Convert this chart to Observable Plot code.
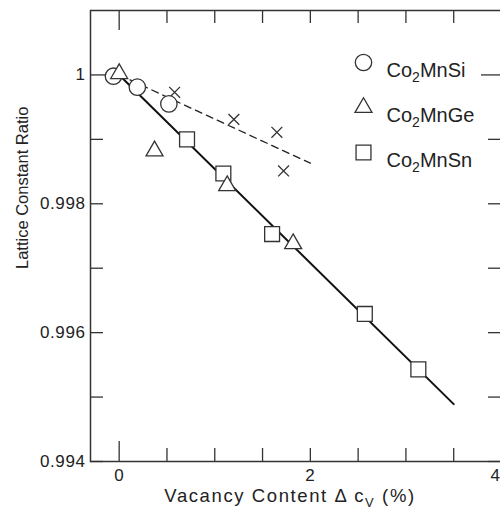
<!DOCTYPE html>
<html>
<head>
<meta charset="utf-8">
<script src="https://cdn.jsdelivr.net/npm/d3@7"></script>
<script src="https://cdn.jsdelivr.net/npm/@observablehq/plot@0.6"></script>
<style>
  html, body { margin: 0; padding: 0; background: #fff; overflow: hidden; }
  #chart { width: 500px; height: 513px; overflow: hidden; }
  #chart svg { max-width: none !important; }
</style>
</head>
<body>
<div id="chart"></div>
<script>
// ---- data ----
const seriesNames = ["Co2MnSi", "Co2MnGe", "Co2MnSn"];
const seriesSymbols = ["circle", "triangle", "square"];
const seriesR = [8.2, 6.3, 8.4];

const siX = [-0.06, 0.19, 0.52];
const siY = [0.99998, 0.99981, 0.99955];
const geX = [0.0, 0.37, 1.13, 1.82];
const geY = [1.00002, 0.99882, 0.99828, 0.99738];
const snX = [0.71, 1.09, 1.60, 2.57, 3.13];
const snY = [0.99900, 0.99847, 0.99753, 0.99629, 0.99543];
const crossX = [0.58, 1.20, 1.65, 1.72];
const crossY = [0.99973, 0.99931, 0.99911, 0.99851];

const solidFitX = [0, 3.5];
const solidFitY = [1.0, 0.99489];
const dashFitX = [0, 2.0];
const dashFitY = [1.0, 0.99863];

const xTicksAll = [0, 0.5, 1, 1.5, 2, 2.5, 3, 3.5, 4];
const xTicksLong = [0];
const xTickLabels = [0, 2];
const xTickLabelsEdge = [4];
const yTicksAll = [0.994, 0.995, 0.996, 0.997, 0.998, 0.999, 1.0];
const yTicksLong = [1.0];
const yTickLabels = [0.994, 0.996, 0.998, 1.0];

const xTitle = "Vacancy Content Δ cV (%)";
const yTitle = "Lattice Constant Ratio";

// ---- build tables ----
const zipPts = (xs, ys) => xs.map((x, i) => ({x, y: ys[i]}));
const siPts = zipPts(siX, siY);
const gePts = zipPts(geX, geY);
const snPts = zipPts(snX, snY);
const crossPts = zipPts(crossX, crossY);
const solidFit = zipPts(solidFitX, solidFitY);
const dashFit = zipPts(dashFitX, dashFitY);

const W = 512, H = 513, mL = 90, mT = 10, mB = 52, mR = 11;
const innerH = H - mT - mB;
const innerW = W - mL - mR;
const ink = "#333";
const font = "'Liberation Sans', Arial, sans-serif";

const shortX = xTicksAll.filter(d => !xTicksLong.includes(d));
const shortY = yTicksAll.filter(d => !yTicksLong.includes(d));

const legendMarks = [];
seriesNames.forEach((name, i) => {
  legendMarks.push(Plot.dot([name], {
    frameAnchor: "top-left", dx: 273, dy: 52 + i * 45,
    symbol: () => seriesSymbols[i], r: seriesR[i],
    stroke: ink, strokeWidth: 1.3, fill: "white"
  }));
  legendMarks.push(Plot.text([name], {
    frameAnchor: "top-left", dx: 296, dy: 52 + i * 45,
    text: d => d, textAnchor: "start", fontSize: 20, fill: "#222"
  }));
});

const chart = Plot.plot({
  width: W, height: H,
  marginLeft: mL, marginTop: mT, marginBottom: mB, marginRight: mR,
  style: {fontFamily: font, fontSize: "17px", color: "#222", background: "white", maxWidth: "none"},
  x: {domain: [-0.3, 4.0]},
  y: {domain: [0.994, 1.001]},
  symbol: {type: "identity"},
  marks: [
    // inward ticks
    Plot.ruleX(shortX, {x: d => d, insetTop: innerH - 13, stroke: ink, strokeWidth: 1.3}),
    Plot.ruleX(xTicksLong, {x: d => d, insetTop: innerH - 20, stroke: ink, strokeWidth: 1.3}),
    Plot.ruleX(shortX, {x: d => d, insetBottom: innerH - 13, stroke: ink, strokeWidth: 1.3}),
    Plot.ruleX(xTicksLong, {x: d => d, insetBottom: innerH - 20, stroke: ink, strokeWidth: 1.3}),
    Plot.ruleY(shortY, {y: d => d, insetRight: innerW - 13, stroke: ink, strokeWidth: 1.3}),
    Plot.ruleY(yTicksLong, {y: d => d, insetRight: innerW - 15, stroke: ink, strokeWidth: 1.3}),
    Plot.ruleY(shortY, {y: d => d, insetLeft: innerW - 13, stroke: ink, strokeWidth: 1.3}),
    Plot.ruleY(yTicksLong, {y: d => d, insetLeft: innerW - 20, stroke: ink, strokeWidth: 1.3}),
    // tick labels
    Plot.axisX({ticks: xTickLabels, tickSize: 0, tickPadding: 7, label: null, tickFormat: d3.format("d"), fill: "#222"}),
    Plot.axisX({ticks: xTickLabelsEdge, tickSize: 0, tickPadding: 7, label: null, tickFormat: d3.format("d"), fill: "#222", dx: -6}),
    Plot.axisY({ticks: yTickLabels, tickSize: 0, tickPadding: 5, label: null, tickFormat: d => d === 1 ? "1" : d3.format(".3f")(d), fill: "#222"}),
    // fit lines
    Plot.line(dashFit, {x: "x", y: "y", stroke: "#222", strokeWidth: 1.3, strokeDasharray: "7,5"}),
    Plot.line(solidFit, {x: "x", y: "y", stroke: "#111", strokeWidth: 2}),
    // data
    Plot.dot(crossPts, {x: "x", y: "y", symbol: () => "times", r: 5, stroke: ink, strokeWidth: 1.3}),
    Plot.dot(siPts, {x: "x", y: "y", symbol: () => "circle", r: seriesR[0], stroke: ink, strokeWidth: 1.3, fill: "white"}),
    Plot.dot(snPts, {x: "x", y: "y", symbol: () => "square", r: seriesR[2], stroke: ink, strokeWidth: 1.3, fill: "white"}),
    Plot.dot(gePts, {x: "x", y: "y", symbol: () => "triangle", r: seriesR[1], stroke: ink, strokeWidth: 1.3, fill: "white"}),
    // legend
    ...legendMarks,
    // axis titles
    Plot.text([xTitle], {frameAnchor: "bottom", dx: -6, dy: 40, text: d => d, fontSize: 18.5, fill: "#222"}),
    Plot.text([yTitle], {frameAnchor: "left", dx: -68, dy: 33, rotate: -90, text: d => d, fontSize: 16.5, fill: "#222"}),
    // frame
    Plot.frame({stroke: ink, strokeWidth: 1.5})
  ]
});
chart.style.maxWidth = "none";

// subscripts
function subscriptify(el, before, sub, after, subSize, shift) {
  el.textContent = "";
  const ns = "http://www.w3.org/2000/svg";
  const t1 = document.createElementNS(ns, "tspan"); t1.textContent = before;
  const t2 = document.createElementNS(ns, "tspan"); t2.textContent = sub;
  t2.setAttribute("font-size", subSize); t2.setAttribute("dy", shift);
  const t3 = document.createElementNS(ns, "tspan"); t3.textContent = after;
  t3.setAttribute("dy", -shift);
  el.append(t1, t2, t3);
}
chart.querySelectorAll("text").forEach(el => {
  const s = el.textContent;
  if (/^Co2Mn/.test(s)) subscriptify(el, "Co", "2", s.slice(3), 14, 5);
  else if (s === xTitle) {
    el.setAttribute("letter-spacing", "1.6");
    subscriptify(el, "Vacancy Content Δ c", "V", " (%)", 13, 5);
  }
});
chart.querySelectorAll("g[aria-label='x-axis tick label'] text, g[aria-label='y-axis tick label'] text")
  .forEach(el => el.setAttribute("letter-spacing", "0.6"));

document.getElementById("chart").append(chart);
</script>
</body>
</html>
